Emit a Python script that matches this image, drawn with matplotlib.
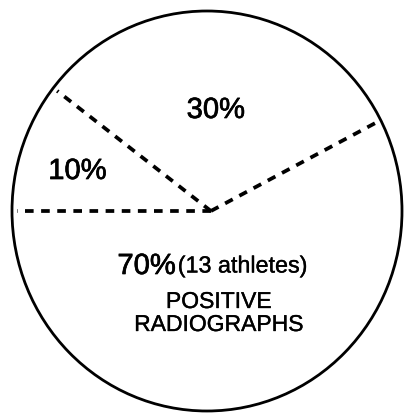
import numpy as np
import matplotlib.pyplot as plt
import matplotlib.patheffects as pe

# slice labels, and the angular size of each slice as drawn (degrees)
labels = ['70%', '30%', '10%']
wedge_degrees = [207, 115, 38]
note = '(13 athletes)'
caption = 'POSITIVE\nRADIOGRAPHS'

plt.rcParams['font.family'] = ['Liberation Sans', 'DejaVu Sans']

fig = plt.figure(figsize=(4.13, 4.14), dpi=100)
ax = fig.add_axes([0, 0, 1, 1])

wedges, _ = ax.pie(wedge_degrees, startangle=180, counterclock=True,
                   colors=['white'] * 3, wedgeprops={'linewidth': 0})

# solid outer rim
rim = plt.Circle((0, 0), 1, fill=False, color='black', linewidth=2.0)
ax.add_patch(rim)

# dashed dividers at each wedge boundary
for w in wedges:
    t = np.deg2rad(w.theta1)
    ax.plot([0.02, 0.975 * np.cos(t)], [0, 0.975 * np.sin(t)], color='black',
            linewidth=2.7, dashes=(2.3, 2.0), solid_capstyle='butt')

ax.set_aspect('auto')
ax.set_xlim(-207 / 195, 206 / 195)
ax.set_ylim(-202 / 200, 212 / 200)
ax.axis('off')

# slightly heavier strokes, like the printed original
thick = [pe.withStroke(linewidth=0.5, foreground='black')]
thin = [pe.withStroke(linewidth=0.25, foreground='black')]

ax.text(0.045, 0.505, labels[1], fontsize=21, ha='center', va='center',
        path_effects=thick)
ax.text(-0.665, 0.2, labels[2], fontsize=21, ha='center', va='center',
        path_effects=thick)
ax.text(-0.31, -0.275, labels[0], fontsize=21, ha='center', va='center',
        path_effects=thick)
ax.text(-0.15, -0.275, note, fontsize=16.8, ha='left', va='center',
        path_effects=thin)
ax.text(0.06, -0.51, caption, fontsize=16.5, ha='center', va='center',
        linespacing=1.0, path_effects=thin)

fig.savefig('out.png', dpi=100)
